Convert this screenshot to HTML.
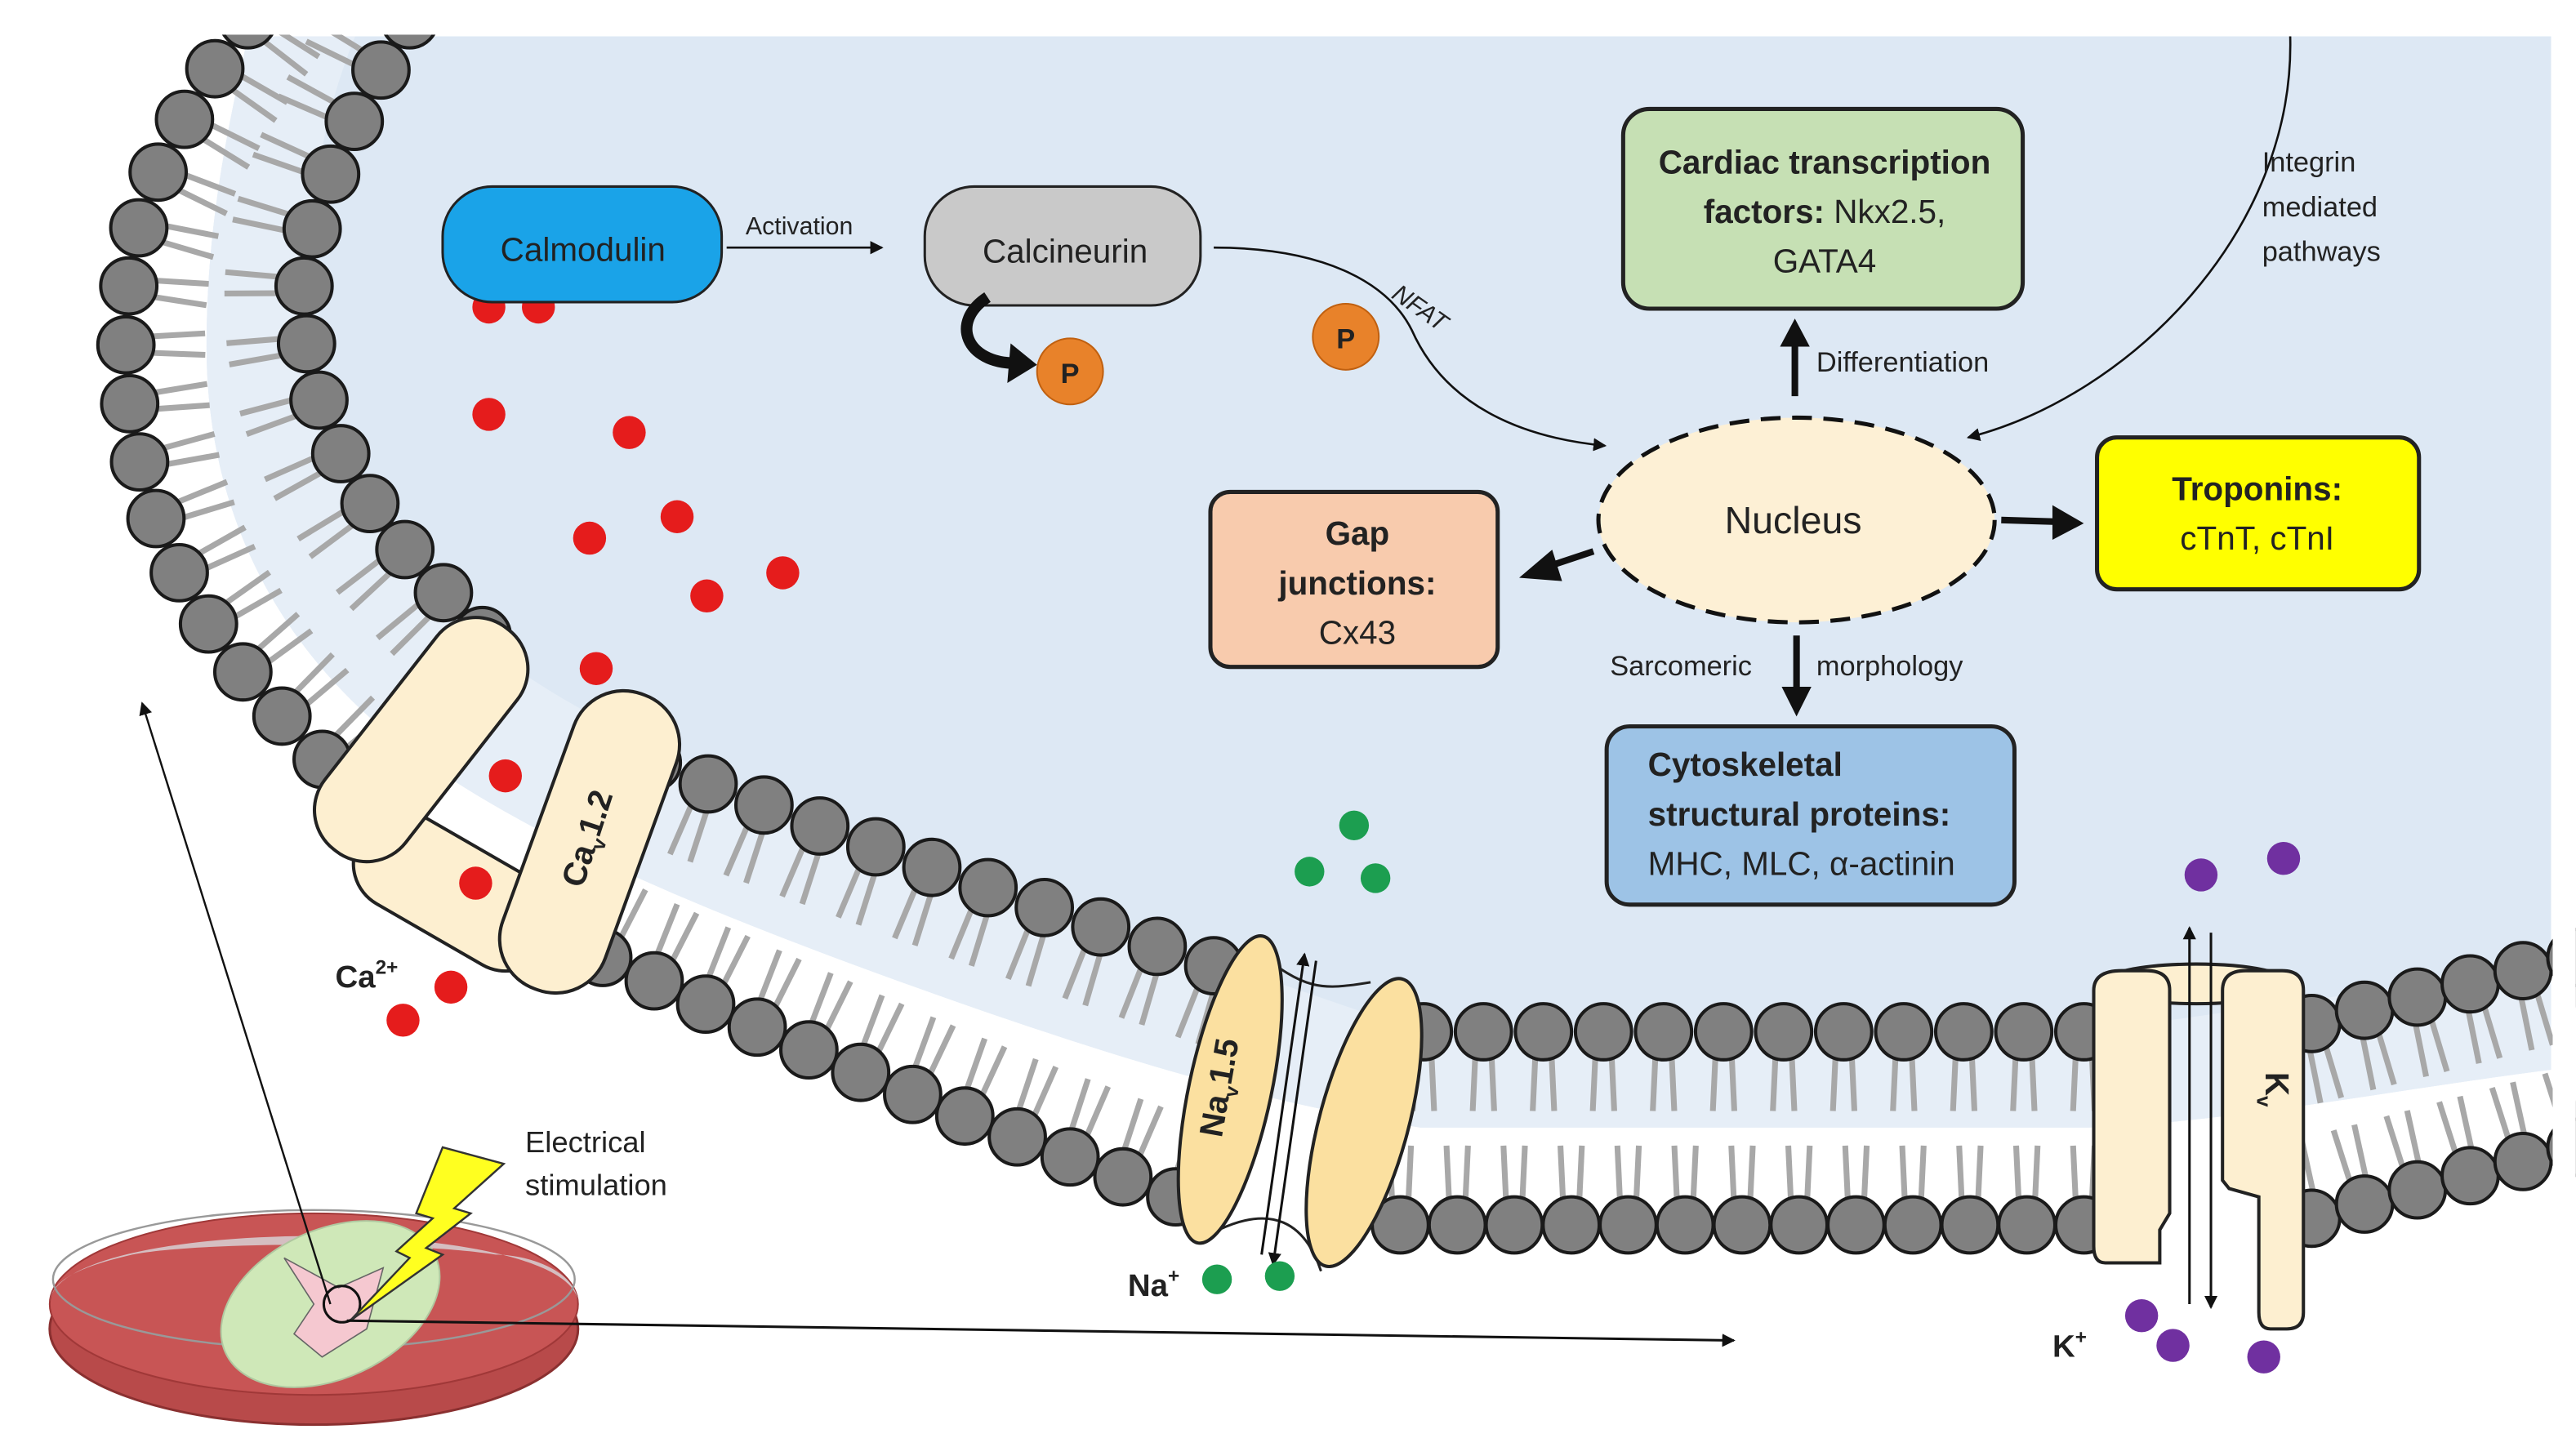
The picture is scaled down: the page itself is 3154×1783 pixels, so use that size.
<!DOCTYPE html>
<html><head><meta charset="utf-8">
<style>
html,body{margin:0;padding:0;background:#fff;}
svg{display:block;}
text{font-family:"Liberation Sans",sans-serif;fill:#222;}
</style></head>
<body>
<svg id="s" width="3154" height="1783" viewBox="0 0 1560 882" xmlns="http://www.w3.org/2000/svg">
<defs>
<marker id="ah" markerWidth="8" markerHeight="8" refX="7" refY="4" orient="auto" markerUnits="userSpaceOnUse"><path d="M0,0 L8,4 L0,8 z" fill="#111"/></marker>
</defs>
<rect width="1560" height="882" fill="#fff"/>
<!-- cell interior -->
<path d="M150,22 L1545,22 L1545,648 C1450,660 1350,680 1265,683 L860,683 C780,670 700,650 560,600 C420,550 300,500 230,440 C160,380 125,300 125,210 C125,130 140,70 150,22 Z" fill="#dde8f4"/>
<path d="M215,22 C175,120 175,250 260,360 C330,440 500,500 700,570 L860,625 L1265,625 L1545,585 L1545,648 C1450,660 1350,680 1265,683 L860,683 C780,670 700,650 560,600 C420,550 300,500 230,440 C160,380 125,300 125,210 C125,130 140,70 150,22 Z" fill="#e6eef7"/>
<g id="mem"></g>
<rect x="0" y="0" width="1560" height="21" fill="#fff"/>
<rect x="1546" y="0" width="14" height="882" fill="#fff"/>

<!-- Ca channel -->
<g fill="#fdefd0" stroke="#222" stroke-width="2">
<rect x="-65" y="-30" width="130" height="60" rx="28" transform="translate(275,540) rotate(30)"/>
<rect x="-85" y="-31" width="170" height="62" rx="30" transform="translate(255,448) rotate(-52)"/>
<rect x="-95" y="-33" width="190" height="66" rx="32" transform="translate(357,510) rotate(-70)"/>
</g>
<text transform="translate(362,510) rotate(-72)" font-size="20" font-weight="bold" text-anchor="middle">Ca<tspan font-size="12" dy="5">v</tspan><tspan dy="-5">1.2</tspan></text>

<!-- Na channel -->
<path d="M760,575 C790,600 800,600 830,595 M738,745 C770,730 790,740 800,770" fill="none" stroke="#222" stroke-width="1.5"/>
<g fill="#fbe0a0" stroke="#222" stroke-width="2">
<ellipse cx="745" cy="660" rx="25" ry="95" transform="rotate(12 745 660)"/>
<ellipse cx="826" cy="680" rx="27" ry="90" transform="rotate(15 826 680)"/>
</g>
<text transform="translate(745,660) rotate(-80)" font-size="20" font-weight="bold" text-anchor="middle">Na<tspan font-size="12" dy="5">v</tspan><tspan dy="-5">1.5</tspan></text>
<line x1="764" y1="760" x2="790" y2="578" stroke="#111" stroke-width="1.5" marker-end="url(#ah)"/>
<line x1="797" y1="582" x2="771" y2="766" stroke="#111" stroke-width="1.5" marker-end="url(#ah)"/>

<!-- K channel -->
<g fill="#fdefd0" stroke="#222" stroke-width="2">
<ellipse cx="1330" cy="596" rx="58" ry="12"/>
<path d="M1268,600 Q1268,588 1285,588 L1300,588 Q1314,588 1314,600 L1314,735 L1308,745 L1308,765 L1275,765 Q1268,765 1268,755 Z"/>
<path d="M1346,600 Q1346,588 1360,588 L1382,588 Q1395,588 1395,600 L1395,795 Q1395,805 1385,805 L1375,805 Q1368,805 1368,795 L1368,725 L1350,720 L1346,715 Z"/>
</g>
<text transform="translate(1372,660) rotate(90)" font-size="20" font-weight="bold" text-anchor="middle">K<tspan font-size="12" dy="5">v</tspan></text>
<line x1="1326" y1="790" x2="1326" y2="562" stroke="#111" stroke-width="1.5" marker-end="url(#ah)"/>
<line x1="1339" y1="565" x2="1339" y2="792" stroke="#111" stroke-width="1.5" marker-end="url(#ah)"/>

<!-- ions -->
<g fill="#e51c1c">
<circle cx="296" cy="186" r="10"/><circle cx="326" cy="186" r="10"/><circle cx="296" cy="251" r="10"/><circle cx="381" cy="262" r="10"/>
<circle cx="357" cy="326" r="10"/><circle cx="410" cy="313" r="10"/><circle cx="428" cy="361" r="10"/><circle cx="474" cy="347" r="10"/>
<circle cx="361" cy="405" r="10"/><circle cx="306" cy="470" r="10"/><circle cx="288" cy="535" r="10"/><circle cx="273" cy="598" r="10"/><circle cx="244" cy="618" r="10"/>
</g>
<g fill="#1c9e50">
<circle cx="820" cy="500" r="9"/><circle cx="793" cy="528" r="9"/><circle cx="833" cy="532" r="9"/><circle cx="737" cy="775" r="9"/><circle cx="775" cy="773" r="9"/>
</g>
<g fill="#7030a0">
<circle cx="1333" cy="530" r="10"/><circle cx="1383" cy="520" r="10"/><circle cx="1297" cy="797" r="10"/><circle cx="1316" cy="815" r="10"/><circle cx="1371" cy="822" r="10"/>
</g>
<text x="203" y="598" font-size="19" font-weight="bold">Ca<tspan font-size="12" dy="-8">2+</tspan></text>
<text x="683" y="785" font-size="19" font-weight="bold">Na<tspan font-size="12" dy="-8">+</tspan></text>
<text x="1243" y="822" font-size="19" font-weight="bold">K<tspan font-size="12" dy="-8">+</tspan></text>

<!-- signalling -->
<rect x="268" y="113" width="169" height="70" rx="30" fill="#1aa3e8" stroke="#222" stroke-width="1.5"/>
<text x="353" y="158" font-size="20" text-anchor="middle">Calmodulin</text>
<line x1="440" y1="150" x2="534" y2="150" stroke="#111" stroke-width="1.3" marker-end="url(#ah)"/>
<text x="484" y="142" font-size="15" text-anchor="middle">Activation</text>
<rect x="560" y="113" width="167" height="72" rx="30" fill="#c9c9c9" stroke="#222" stroke-width="1.5"/>
<text x="645" y="159" font-size="20" text-anchor="middle">Calcineurin</text>
<path d="M598,180 C575,195 585,220 615,220" fill="none" stroke="#111" stroke-width="7"/>
<path d="M612,208 L628,221 L610,232 z" fill="#111"/>
<circle cx="648" cy="225" r="20" fill="#e8822a" stroke="#c06010" stroke-width="1"/>
<text x="648" y="232" font-size="17" font-weight="bold" text-anchor="middle">P</text>
<circle cx="815" cy="204" r="20" fill="#e8822a" stroke="#c06010" stroke-width="1"/>
<text x="815" y="211" font-size="17" font-weight="bold" text-anchor="middle">P</text>
<path d="M735,150 C800,150 840,170 855,200 C875,245 920,265 972,270" fill="none" stroke="#111" stroke-width="1.3" marker-end="url(#ah)"/>
<text transform="translate(842,180) rotate(35)" font-size="15" font-style="italic">NFAT</text>

<rect x="983" y="66" width="242" height="121" rx="16" fill="#c6e0b4" stroke="#222" stroke-width="2.5"/>
<text x="1105" y="105" font-size="20" font-weight="bold" text-anchor="middle">Cardiac transcription</text>
<text x="1105" y="135" font-size="20" text-anchor="middle"><tspan font-weight="bold">factors:</tspan> Nkx2.5,</text>
<text x="1105" y="165" font-size="20" text-anchor="middle">GATA4</text>

<path d="M1387,22 C1390,140 1290,240 1192,265" fill="none" stroke="#111" stroke-width="1.3" marker-end="url(#ah)"/>
<text x="1370" y="104" font-size="17">Integrin</text>
<text x="1370" y="131" font-size="17">mediated</text>
<text x="1370" y="158" font-size="17">pathways</text>

<line x1="1087" y1="240" x2="1087" y2="210" stroke="#111" stroke-width="4"/>
<path d="M1078,210 L1087,193 L1096,210 z" fill="#111"/>
<text x="1100" y="225" font-size="17">Differentiation</text>

<ellipse cx="1088" cy="315" rx="120" ry="62" fill="#fdf0d5" stroke="#111" stroke-width="2.5" stroke-dasharray="12,7"/>
<text x="1086" y="323" font-size="23" text-anchor="middle">Nucleus</text>

<rect x="733" y="298" width="174" height="106" rx="12" fill="#f8cbad" stroke="#222" stroke-width="2.5"/>
<text x="822" y="330" font-size="20" font-weight="bold" text-anchor="middle">Gap</text>
<text x="822" y="360" font-size="20" font-weight="bold" text-anchor="middle">junctions:</text>
<text x="822" y="390" font-size="20" text-anchor="middle">Cx43</text>
<line x1="965" y1="334" x2="935" y2="344" stroke="#111" stroke-width="4"/>
<path d="M940,333 L920,350 L946,352 z" fill="#111"/>

<rect x="1270" y="265" width="195" height="92" rx="12" fill="#ffff00" stroke="#222" stroke-width="2.5"/>
<text x="1367" y="303" font-size="20" font-weight="bold" text-anchor="middle">Troponins:</text>
<text x="1367" y="333" font-size="20" text-anchor="middle">cTnT, cTnI</text>
<line x1="1212" y1="315" x2="1245" y2="316" stroke="#111" stroke-width="4"/>
<path d="M1243,306 L1262,317 L1243,327 z" fill="#111"/>

<line x1="1088" y1="385" x2="1088" y2="418" stroke="#111" stroke-width="4"/>
<path d="M1079,416 L1088,434 L1097,416 z" fill="#111"/>
<text x="975" y="409" font-size="17">Sarcomeric</text>
<text x="1100" y="409" font-size="17">morphology</text>

<rect x="973" y="440" width="247" height="108" rx="14" fill="#9dc3e6" stroke="#222" stroke-width="2.5"/>
<text x="998" y="470" font-size="20" font-weight="bold">Cytoskeletal</text>
<text x="998" y="500" font-size="20" font-weight="bold">structural proteins:</text>
<text x="998" y="530" font-size="20">MHC, MLC, α-actinin</text>

<!-- petri dish -->
<ellipse cx="190" cy="805" rx="160" ry="58" fill="#b84a4a" stroke="#8a3030" stroke-width="1.5"/>
<ellipse cx="190" cy="790" rx="160" ry="55" fill="#c85555" stroke="#a03838" stroke-width="1"/>
<path d="M30,790 C30,735 350,735 350,790 C350,770 320,760 300,760 C250,752 120,752 80,760 C50,767 30,775 30,790 Z" fill="#d8d8dc" opacity="0.8"/>
<ellipse cx="190" cy="775" rx="158" ry="42" fill="none" stroke="#999" stroke-width="1.2"/>
<ellipse cx="200" cy="790" rx="70" ry="45" fill="#cfe8b8" stroke="#b0c8a0" stroke-width="1" transform="rotate(-25 200 790)"/>
<path d="M172,762 L205,780 L232,768 L222,805 L195,822 L178,808 L190,790 Z" fill="#f5c8d0" stroke="#666" stroke-width="0.8"/>
<circle cx="207" cy="790" r="11" fill="none" stroke="#111" stroke-width="1.5"/>
<path d="M305,705 L268,695 L252,735 L262,738 L240,758 L248,762 L212,800 L268,760 L258,756 L285,735 L275,732 Z" fill="#ffff20" stroke="#333" stroke-width="1.2"/>
<text x="318" y="698" font-size="18">Electrical</text>
<text x="318" y="724" font-size="18">stimulation</text>
<line x1="200" y1="790" x2="86" y2="426" stroke="#111" stroke-width="1.2" marker-end="url(#ah)"/>
<line x1="210" y1="800" x2="1050" y2="812" stroke="#111" stroke-width="1.5" marker-end="url(#ah)"/>
</svg>
<script>
(function(){
var NS="http://www.w3.org/2000/svg";
var g=document.getElementById("mem");
function mk(t,a){var e=document.createElementNS(NS,t);for(var k in a)e.setAttribute(k,a[k]);return e;}
function pathD(pts){var d="M"+pts[0][0]+","+pts[0][1];for(var i=1;i<pts.length-1;i++){var mx=(pts[i][0]+pts[i+1][0])/2,my=(pts[i][1]+pts[i+1][1])/2;d+=" Q"+pts[i][0]+","+pts[i][1]+" "+mx+","+my;}var l=pts[pts.length-1];d+=" L"+l[0]+","+l[1];return d;}
var outer=[
 [[150,12],[95,90],[72,190],[85,300],[130,390],[195,460]],
 [[365,580],[540,660],[712,725]],
 [[848,742],[1262,742]],
 [[1400,738],[1560,695]]];
var inner=[
 [[248,12],[190,110],[180,210],[215,300],[292,385]],
 [[395,462],[560,525],[735,585]],
 [[862,625],[1262,625]],
 [[1400,620],[1560,580]]];
var beads=[],tails=[];
function place(segs,sign){
 segs.forEach(function(pts){
  var p=mk("path",{d:pathD(pts)});var L;
  document.getElementById("s").appendChild(p);L=p.getTotalLength();
  var n=Math.max(1,Math.round(L/35));var step=L/n;
  for(var i=0;i<=n;i++){var s=i*step;var a=p.getPointAtLength(Math.max(0,s-1)),b=p.getPointAtLength(Math.min(L,s+1)),c=p.getPointAtLength(s);
   var dx=b.x-a.x,dy=b.y-a.y,m=Math.hypot(dx,dy)||1;dx/=m;dy/=m;
   var nx=sign*dy,ny=-sign*dx;
   [-5,5].forEach(function(o){var sx=c.x+nx*16+dx*o,sy=c.y+ny*16+dy*o;
     tails.push(mk("line",{x1:sx,y1:sy,x2:sx+nx*32+dx*o*0.3,y2:sy+ny*32+dy*o*0.3,stroke:"#a8a8a8","stroke-width":3.5}));});
   beads.push(mk("circle",{cx:c.x,cy:c.y,r:17,fill:"#808080",stroke:"#1a1a1a","stroke-width":2}));}
  p.remove();});
}
place(outer,1);place(inner,-1);
tails.forEach(function(e){g.appendChild(e);});beads.forEach(function(e){g.appendChild(e);});
})();
</script>
</body></html>
